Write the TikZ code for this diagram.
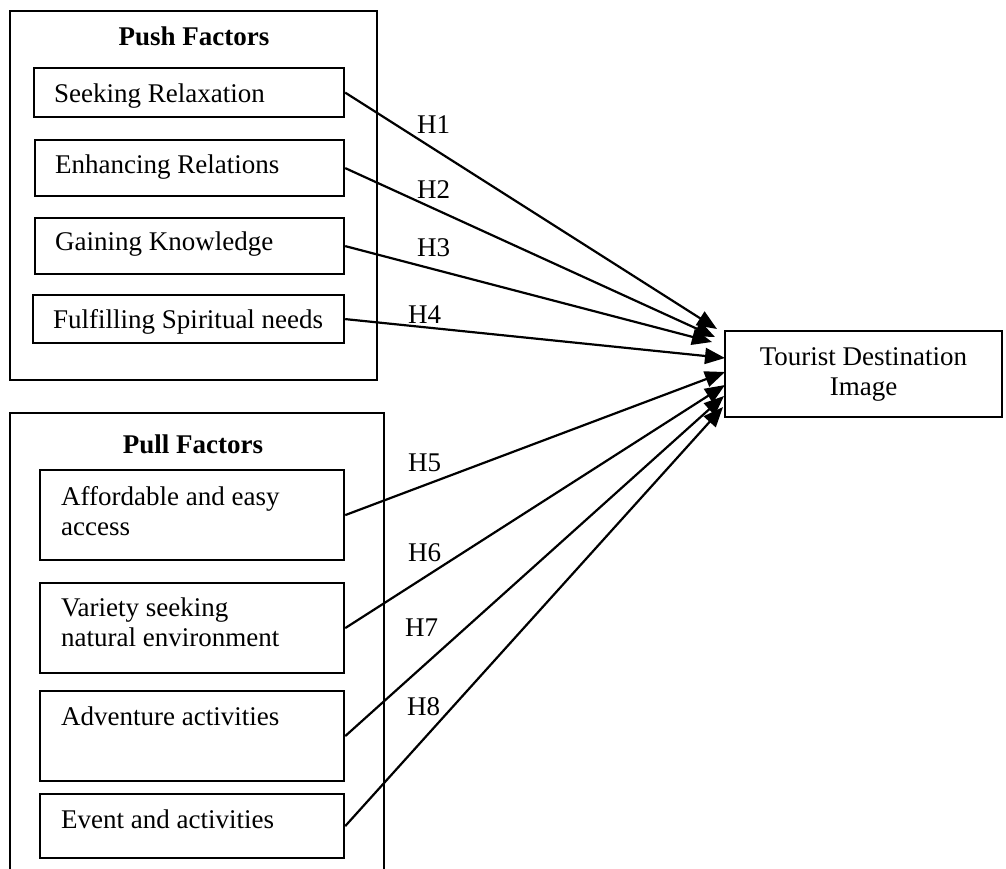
\documentclass[tikz,border=0pt]{standalone}
\usepackage{fontspec}
\setmainfont{Liberation Serif}
\usetikzlibrary{arrows.meta}

\newcommand{\figfont}{\fontsize{27}{30}\selectfont}

\begin{document}
\begin{tikzpicture}[x=1pt, y=-1pt,
    group/.style={draw, line width=2.2pt, anchor=north west, inner sep=0pt},
    factor/.style={draw, line width=2.2pt, anchor=north west, inner sep=0pt},
    ftext/.style={anchor=base west, inner sep=0pt, align=left, font=\figfont},
    grouptitle/.style={anchor=base, inner sep=0pt, font=\figfont\bfseries},
    hyp/.style={line width=2.2pt, -{Triangle[length=20pt, width=16pt]}},
    hlabel/.style={anchor=base west, inner sep=0pt, font=\figfont}]

    % Marco de la figura
    \useasboundingbox (0,0) rectangle (1006,868);
    \clip (0,0) rectangle (1006,868);

    % Push factors
    \node[group, minimum width=367pt, minimum height=369pt] (push) at (9,10) {};
    \node[grouptitle] (pushtitle) at (194,45) {Push Factors};
    \node[factor, minimum width=310pt, minimum height=49pt] (relax) at (33,67) {};
    \node[ftext] (relaxtext) at (54,102) {Seeking Relaxation};
    \node[factor, minimum width=309pt, minimum height=56pt] (enhance) at (34,139) {};
    \node[ftext] (enhancetext) at (55,173) {Enhancing Relations};
    \node[factor, minimum width=309pt, minimum height=56pt] (gain) at (34,217) {};
    \node[ftext] (gaintext) at (55,250) {Gaining Knowledge};
    \node[factor, minimum width=311pt, minimum height=48pt] (spirit) at (32,294) {};
    \node[ftext] (spirittext) at (53,328) {Fulfilling Spiritual needs};

    % Pull factors (los textos de dos lineas van por la base de la ultima linea)
    \node[group, minimum width=374pt, minimum height=480pt] (pull) at (9,412) {};
    \node[grouptitle] (pulltitle) at (193,453) {Pull Factors};
    \node[factor, minimum width=304pt, minimum height=90pt] (afford) at (39,469) {};
    \node[ftext] (affordtext) at (61,535) {Affordable and easy\\access};
    \node[factor, minimum width=304pt, minimum height=90pt] (variety) at (39,582) {};
    \node[ftext] (varietytext) at (61,646) {Variety seeking\\natural environment};
    \node[factor, minimum width=304pt, minimum height=90pt] (advent) at (39,690) {};
    \node[ftext] (adventtext) at (61,725) {Adventure activities};
    \node[factor, minimum width=304pt, minimum height=64pt] (event) at (39,793) {};
    \node[ftext] (eventtext) at (61,828) {Event and activities};

    % Imagen del destino
    \node[draw, line width=2.2pt, minimum width=277pt, minimum height=86pt,
          align=center, font=\figfont] (dest) at (863.5,374) {Tourist Destination\\Image};

    % Puntas de las flechas
    \coordinate (t1) at (717,329);
    \coordinate (t2) at (715,337);
    \coordinate (t3) at (712,342);
    \coordinate (t4) at (725,358);
    \coordinate (t5) at (725,372);
    \coordinate (t6) at (725,385);
    \coordinate (t7) at (724,396);
    \coordinate (t8) at (723,407);

    % Hipotesis
    \foreach \src/\tip in {relax/t1, enhance/t2, gain/t3, spirit/t4,
                           afford/t5, variety/t6, advent/t7, event/t8} {
        \draw[hyp] (\src.east) -- (\tip);
    }

    % Etiquetas H1 - H8
    \node[hlabel] (h1) at (417,133) {H1};
    \node[hlabel] (h2) at (417,198) {H2};
    \node[hlabel] (h3) at (417,256) {H3};
    \node[hlabel] (h4) at (408,323) {H4};
    \node[hlabel] (h5) at (408,471) {H5};
    \node[hlabel] (h6) at (408,561) {H6};
    \node[hlabel] (h7) at (405,636) {H7};
    \node[hlabel] (h8) at (407,715) {H8};

\end{tikzpicture}
\end{document}
